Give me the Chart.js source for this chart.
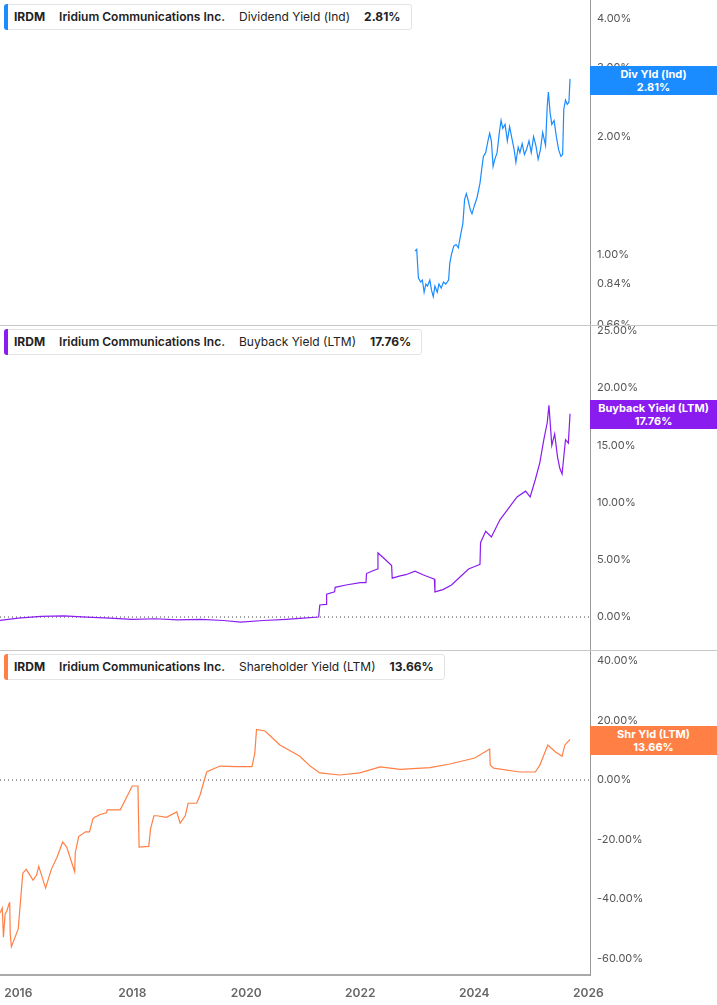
<!DOCTYPE html>
<html><head><meta charset="utf-8">
<script src="https://cdn.jsdelivr.net/npm/chart.js@4"></script>
<style>
body{margin:0;width:717px;height:1005px;background:#fff;position:relative;overflow:hidden;font-family:Inter,"Open Sans",sans-serif}
canvas{position:absolute;left:0}
.hdr{position:absolute;left:4px;height:24px;background:#fff;border:1px solid #e3e3e3;border-radius:3px;font-size:12px;line-height:24px;color:#222;padding:0 10px 0 9px;white-space:nowrap}
.hdr:before{content:"";position:absolute;left:-1px;top:-1px;bottom:-1px;width:4px;border-radius:3px 0 0 3px;background:var(--c)}
.hdr b{font-weight:700}.hdr span{margin-left:14px}
.tag{position:absolute;left:590px;width:127px;height:29px;color:#fff;font-size:11px;font-weight:700;text-align:center;line-height:13px;padding-top:2px;box-sizing:border-box}
.sep{position:absolute;left:0;width:717px;height:1px;background:#c8c8c8}
</style></head><body>
<canvas id="c1"></canvas><canvas id="c2"></canvas><canvas id="c3"></canvas>
<div class="sep" style="top:325px"></div><div class="sep" style="top:650px"></div>
<div class="hdr" style="top:4px;--c:#1a8cff"><b>IRDM</b><span style="font-weight:600">Iridium Communications Inc.</span><span>Dividend Yield (Ind)</span><span style="font-weight:700">2.81%</span></div>
<div class="hdr" style="top:329px;--c:#8a1cf0"><b>IRDM</b><span style="font-weight:600">Iridium Communications Inc.</span><span>Buyback Yield (LTM)</span><span style="font-weight:700">17.76%</span></div>
<div class="hdr" style="top:654px;--c:#ff7f45"><b>IRDM</b><span style="font-weight:600">Iridium Communications Inc.</span><span>Shareholder Yield (LTM)</span><span style="font-weight:700">13.66%</span></div>
<div class="tag" style="top:66px;background:#1a8cff">Div Yld (Ind)<br>2.81%</div>
<div class="tag" style="top:400px;background:#8a1cf0">Buyback Yield (LTM)<br>17.76%</div>
<div class="tag" style="top:726px;background:#ff7f45">Shr Yld (LTM)<br>13.66%</div>
<script>
// Dividend yield (year, %)
const divYears=[2022.96,2022.99,2023.02,2023.06,2023.09,2023.12,2023.15,2023.18,2023.22,2023.25,2023.28,2023.31,2023.35,2023.38,2023.42,2023.46,2023.5,2023.55,2023.57,2023.6,2023.64,2023.68,2023.72,2023.76,2023.8,2023.83,2023.86,2023.89,2023.93,2023.96,2024.0,2024.05,2024.1,2024.13,2024.16,2024.2,2024.24,2024.27,2024.3,2024.33,2024.36,2024.4,2024.44,2024.47,2024.5,2024.54,2024.58,2024.62,2024.66,2024.7,2024.73,2024.77,2024.8,2024.84,2024.88,2024.92,2024.96,2025.0,2025.04,2025.08,2025.12,2025.16,2025.2,2025.25,2025.28,2025.3,2025.33,2025.36,2025.4,2025.44,2025.48,2025.52,2025.55,2025.57,2025.6,2025.63,2025.66,2025.68];
const divVals=[1.02,1.03,0.87,0.85,0.86,0.80,0.84,0.83,0.86,0.81,0.78,0.83,0.80,0.84,0.82,0.85,0.84,0.86,0.95,1.0,1.05,1.06,1.04,1.12,1.2,1.38,1.43,1.38,1.30,1.27,1.33,1.40,1.52,1.65,1.78,1.82,1.95,2.04,1.95,1.68,1.75,1.82,2.05,2.2,2.1,2.15,1.95,2.12,1.98,1.85,1.72,1.88,1.82,1.92,1.80,1.86,1.95,1.82,2.0,1.9,1.75,1.85,2.05,1.9,2.4,2.6,2.3,2.15,2.2,2.0,1.85,1.78,1.8,2.35,2.48,2.42,2.45,2.81];
// Buyback yield
const bbYears=[2015.68,2016.0,2016.4,2016.8,2017.2,2017.6,2018.0,2018.4,2018.8,2019.2,2019.6,2019.9,2020.3,2020.7,2021.0,2021.27,2021.29,2021.4,2021.41,2021.55,2021.56,2021.75,2022.0,2022.1,2022.11,2022.2,2022.3,2022.31,2022.4,2022.55,2022.56,2022.7,2022.8,2022.96,2023.1,2023.2,2023.3,2023.31,2023.45,2023.6,2023.75,2023.9,2024.05,2024.1,2024.11,2024.2,2024.3,2024.45,2024.6,2024.75,2024.9,2024.98,2025.07,2025.15,2025.22,2025.28,2025.31,2025.36,2025.41,2025.46,2025.5,2025.54,2025.6,2025.65,2025.68];
const bbVals=[-0.3,-0.1,0.05,0.1,0.0,-0.1,-0.2,-0.15,-0.25,-0.2,-0.3,-0.45,-0.3,-0.2,-0.1,0.0,1.05,1.1,2.0,2.2,2.6,2.8,3.0,3.0,3.8,4.0,4.2,5.6,5.2,4.5,3.4,3.6,3.7,4.0,3.7,3.5,3.3,2.2,2.4,2.8,3.5,4.2,4.5,4.6,6.5,7.5,7.0,8.5,9.5,10.5,11.0,10.5,12.0,13.5,15.5,17.0,18.5,15.0,16.0,14.0,13.0,12.5,15.5,15.2,17.76];
// Shareholder yield
const shYears=[2015.68,2015.72,2015.74,2015.77,2015.8,2015.84,2015.85,2015.86,2015.88,2016.0,2016.08,2016.14,2016.26,2016.32,2016.36,2016.48,2016.58,2016.68,2016.78,2016.85,2016.99,2017.0,2017.06,2017.18,2017.25,2017.31,2017.34,2017.45,2017.55,2017.56,2017.79,2018.0,2018.1,2018.12,2018.29,2018.32,2018.38,2018.43,2018.6,2018.78,2018.84,2018.93,2018.98,2019.13,2019.19,2019.29,2019.31,2019.54,2019.83,2020.1,2020.15,2020.18,2020.33,2020.59,2020.94,2021.12,2021.29,2021.64,2021.99,2022.35,2022.7,2023.22,2023.57,2024.01,2024.27,2024.28,2024.34,2024.8,2025.07,2025.15,2025.29,2025.42,2025.54,2025.59,2025.68];
const shVals=[-44.7,-43,-52.8,-45,-44,-41.5,-41,-52,-56,-50,-31.3,-30,-33.6,-32,-29,-36.3,-30,-25.9,-20.8,-22.5,-30.8,-24.5,-19,-17.4,-17.4,-13,-12.5,-11.5,-11,-10,-10,-2,-2,-22.5,-22.3,-16.5,-12,-12,-12.5,-10.7,-14.5,-12,-7.8,-7.8,-5,1.7,2.8,4.7,4.5,4.5,9,17,16.5,11.8,8,4.7,2.4,1.7,2.4,4.4,3.6,4.2,5.4,7.4,10.4,5,4,2.7,2.7,5,11.8,9.5,8,11.8,13.66];
const zeroLine=[0,0];
const xMin=2015.68, xMax=2026.03;
const tickStyle={color:'#555',font:{family:'Inter',size:11}};
function pts(xs,ys){return xs.map((x,i)=>({x,y:ys[i]}));}
function make(id,top,h,data,color,yopt,showX,zero){
  const c=document.getElementById(id);c.style.top=top+'px';c.width=717;c.height=h;c.style.width='717px';c.style.height=h+'px';
  const ds=[{data,borderColor:color,borderWidth:1.2,pointRadius:0,tension:0}];
  if(zero)ds.push({data:pts([xMin,xMax],zeroLine),borderColor:'#444',borderWidth:1,borderDash:[1,3],pointRadius:0});
  const xs={type:'linear',min:xMin,max:xMax,display:showX,grid:{display:false,drawTicks:true},
      border:{color:'#aaa',width:2},
      afterBuildTicks:s=>{s.ticks=[2016,2018,2020,2022,2024,2026].map(v=>({value:v}));},
      ticks:{...tickStyle,font:{family:'Inter',size:12,weight:'600'},color:'#666',callback:v=>String(v),maxRotation:0,autoSkip:false}};
  if(showX) xs.afterFit=s=>{s.height=30;s.paddingLeft=0;s.paddingRight=0;};
  new Chart(c,{type:'line',data:{datasets:ds},options:{responsive:false,animation:false,
    layout:{padding:0},plugins:{legend:{display:false},tooltip:{enabled:false}},
    scales:{x:xs,
     y:Object.assign({position:'right',grid:{display:false,drawTicks:true,tickLength:4,tickColor:'#666'},border:{color:'#999'},
      afterFit:s=>{s.width=127;s.paddingTop=0;s.paddingBottom=0;},
      ticks:{...tickStyle,callback:v=>Number(v).toFixed(2)+'%',autoSkip:false}},yopt)}}});
}
make('c1',0,325,pts(divYears,divVals),'#1a8cff',{type:'logarithmic',min:0.66,max:4.47,
  afterBuildTicks:s=>{s.ticks=[0.66,0.84,1,2,3,4].map(v=>({value:v}));}},false,false);
make('c2',325,325,pts(bbYears,bbVals),'#8a1cf0',{min:-2.88,max:25.52,
  afterBuildTicks:s=>{s.ticks=[0,5,10,15,20,25].map(v=>({value:v}));}},false,true);
make('c3',650,355,pts(shYears,shVals),'#ff7f45',{min:-65.5,max:43.7,
  afterBuildTicks:s=>{s.ticks=[-60,-40,-20,0,20,40].map(v=>({value:v}));}},true,true);
</script></body></html>
